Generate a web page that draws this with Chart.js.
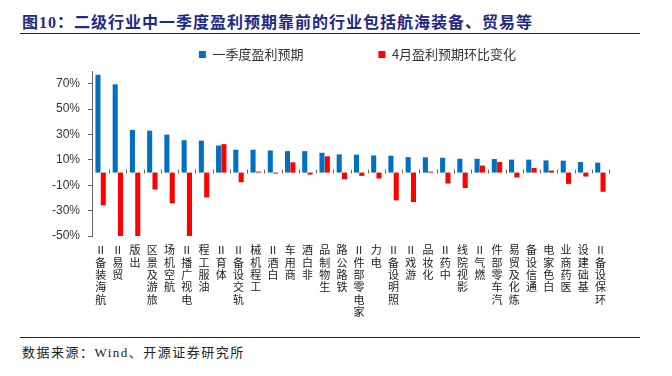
<!DOCTYPE html>
<html>
<head>
<meta charset="utf-8">
<script src="https://cdn.jsdelivr.net/npm/chart.js@4.4.1/dist/chart.umd.min.js"></script>
<style>
  html, body { margin: 0; padding: 0; background: #fff; }
  body { width: 672px; height: 376px; position: relative; overflow: hidden; }
  #titulo {
    position: absolute; left: 22px; top: 9px;
    font: bold 16px "Liberation Serif", "Noto Sans CJK SC", serif;
    letter-spacing: 1px; color: #1f2a85; white-space: nowrap;
  }
  .linea { position: absolute; left: 20px; width: 620px; height: 1px; background: #222; }
  #fuente {
    position: absolute; left: 22px; top: 342px;
    font: 13px "Liberation Serif", "Noto Sans CJK SC", serif;
    letter-spacing: 1.5px; color: #222; white-space: nowrap;
  }
  #caja { position: absolute; left: 44px; top: 38px; width: 627px; height: 288px; }
</style>
</head>
<body>
<div id="titulo">图10：二级行业中一季度盈利预期靠前的行业包括航海装备、贸易等</div>
<div class="linea" style="top:33px"></div>
<div id="caja"><canvas id="grafico"></canvas></div>
<div class="linea" style="top:337px"></div>
<div id="fuente">数据来源：Wind、开源证券研究所</div>

<script>
/* Datos */
const categorias = [
    "航海装备Ⅱ","贸易Ⅱ","出版","旅游及景区","航空机场","电视广播Ⅱ","油服工程","体育Ⅱ",
    "轨交设备Ⅱ","工程机械","白酒Ⅱ","商用车","非白酒","生物制品","铁路公路","家电零部件Ⅱ",
    "电力","照明设备Ⅱ","游戏Ⅱ","化妆品","中药Ⅱ","影视院线","燃气Ⅱ","汽车零部件",
    "炼化及贸易","通信设备","白色家电","医药商业","基础建设","环保设备Ⅱ"
];

const serieTrimestre = [
    77.0, 69.5, 33.6, 33.0, 29.9, 25.5, 25.2, 21.3, 18.0, 18.0,
    17.4, 16.9, 16.9, 15.6, 14.3, 14.1, 13.5, 13.3, 12.2, 12.0,
    11.7, 10.9, 10.9, 10.7, 10.2, 10.2, 9.6, 9.4, 8.3, 7.8
];

const serieAbril = [
    -25.8, -52.0, -52.0, -13.3, -24.2, -52.0, -19.5, 22.4, -7.6, 0.8,
    -0.8, 8.1, -1.6, 12.8, -5.2, -2.6, -4.7, -21.9, -23.2, 0.8,
    -8.6, -12.2, 5.5, 8.3, -3.9, 3.6, 1.6, -8.9, -3.1, -15.1
];

const nombresSeries = ["一季度盈利预期", "4月盈利预期环比变化"];
const ejeY = { min: -50, max: 80, paso: 10 };

/* Etiquetas verticales: caracteres apilados, leídos de abajo hacia arriba */
const etiquetas = categorias.map(c => Array.from(c).reverse());

/* Marcas cortas sobre la línea de cero */
const marcasCero = {
    id: "marcasCero",
    afterDatasetsDraw(chart) {
        const { ctx, scales: { x, y } } = chart;
        const y0 = Math.round(y.getPixelForValue(0)) + 0.5;
        const paso = x.getPixelForValue(1) - x.getPixelForValue(0);
        ctx.save();
        ctx.strokeStyle = "#666";
        ctx.lineWidth = 1;
        ctx.beginPath();
        for (let i = 0; i <= categorias.length; i++) {
            const bx = Math.round(x.getPixelForValue(i) - paso / 2) + 0.5;
            ctx.moveTo(bx, y0 - 4);
            ctx.lineTo(bx, y0);
        }
        ctx.stroke();
        ctx.restore();
    }
};

const conEtiqueta = v => Math.abs(v % 20) === 10;

new Chart(document.getElementById("grafico"), {
    type: "bar",
    data: {
        labels: etiquetas,
        datasets: [
            {
                label: nombresSeries[0],
                data: serieTrimestre,
                backgroundColor: "#0070c0",
                categoryPercentage: 0.62,
                barPercentage: 0.95
            },
            {
                label: nombresSeries[1],
                data: serieAbril,
                backgroundColor: "#ff0000",
                categoryPercentage: 0.62,
                barPercentage: 0.95
            }
        ]
    },
    options: {
        responsive: true,
        maintainAspectRatio: false,
        animation: false,
        layout: { padding: 0 },
        plugins: {
            tooltip: { enabled: false },
            legend: {
                position: "top",
                labels: {
                    boxWidth: 7,
                    boxHeight: 7,
                    padding: 10,
                    color: "#333",
                    font: { family: "'Noto Sans CJK SC', sans-serif", size: 13 },
                    generateLabels(chart) {
                        const base = Chart.defaults.plugins.legend.labels.generateLabels(chart);
                        base[0].text = base[0].text + "\u3000".repeat(5);
                        base.forEach(it => { it.lineWidth = 0; });
                        return base;
                    }
                }
            }
        },
        scales: {
            x: {
                grid: { display: false, drawTicks: false },
                border: { display: false },
                ticks: {
                    autoSkip: false,
                    maxRotation: 0,
                    minRotation: 0,
                    padding: 8,
                    color: "#222",
                    font: { family: "'Noto Sans CJK SC', sans-serif", size: 11, lineHeight: 1.12 }
                }
            },
            y: {
                min: ejeY.min,
                max: ejeY.max,
                border: { display: true, color: "#666", width: 1 },
                grid: {
                    drawOnChartArea: true,
                    tickLength: 4,
                    color: c => (c.tick && c.tick.value === 0 ? "#666" : "rgba(0,0,0,0)"),
                    tickColor: c => (c.tick && conEtiqueta(c.tick.value) ? "#666" : "rgba(0,0,0,0)")
                },
                ticks: {
                    stepSize: ejeY.paso,
                    padding: 8,
                    color: "#333",
                    font: { family: "'Liberation Sans', Arial, sans-serif", size: 12 },
                    callback: v => (conEtiqueta(v) ? v + "%" : "")
                }
            },
            y2: {
                position: "right",
                grid: { display: false, drawTicks: false },
                border: { display: false },
                ticks: { display: false },
                afterFit(s) { s.width = 62; }
            }
        }
    },
    plugins: [marcasCero]
});
</script>
</body>
</html>
